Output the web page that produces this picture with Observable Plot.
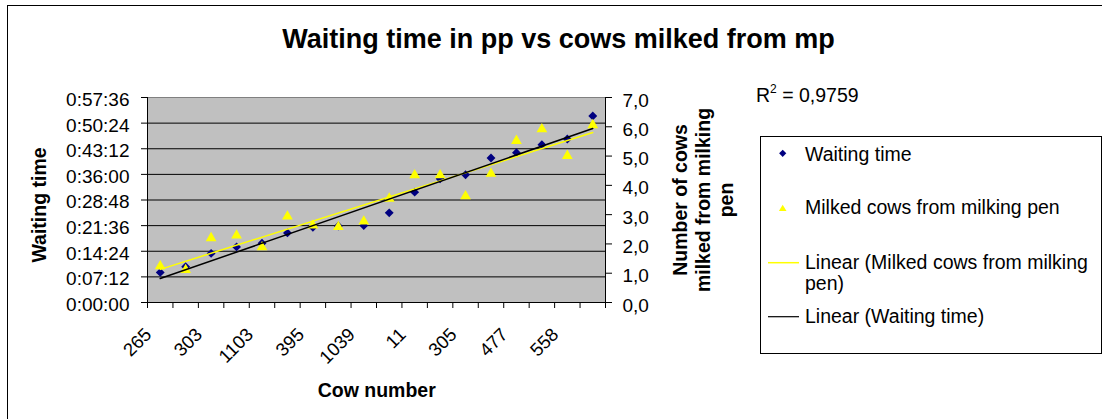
<!DOCTYPE html>
<html>
<head>
<meta charset="utf-8">
<script src="https://cdn.jsdelivr.net/npm/d3@7"></script>
<script src="https://cdn.jsdelivr.net/npm/@observablehq/plot@0.6"></script>
<style>
  html, body { margin: 0; padding: 0; background: #fff; }
  #chart { position: relative; width: 1102px; height: 419px; overflow: hidden;
           font-family: "Liberation Sans", Arial, sans-serif; }
  #chart svg { position: absolute; left: 0; top: 0; }
</style>
</head>
<body>
<div id="chart"></div>
<script>
// Cow numbers shown under the axis (every second cow is labelled)
const cowTickLabels = ["265", "303", "1103", "395", "1039", "11", "305", "477", "558"];
const labelStep = 2;

// Waiting time in the pre-milking pen, one value per cow (h:mm:ss)
const waitingTime = [
  "0:08:27", "0:10:04", "0:13:48", "0:15:37", "0:16:38", "0:19:33",
  "0:21:08", "0:21:30", "0:21:37", "0:25:11", "0:31:00", "0:34:46",
  "0:35:54", "0:40:35", "0:42:06", "0:44:21", "0:45:56", "0:52:25"
];

// Number of cows milked from the milking pen, one value per cow
const milkedCows = [
  1.24, 1.11, 2.20, 2.29, 1.89, 2.94,
  2.63, 2.58, 2.77, 3.55, 4.35, 4.35,
  3.63, 4.40, 5.52, 5.92, 5.01, 6.06
];

// Axis tick labels
const timeTickLabels = ["0:00:00", "0:07:12", "0:14:24", "0:21:36", "0:28:48",
                        "0:36:00", "0:43:12", "0:50:24", "0:57:36"];
const countTickLabels = ["0,0", "1,0", "2,0", "3,0", "4,0", "5,0", "6,0", "7,0"];

const rSquaredText = "0,9759";

// ---- derived values ----
const toSeconds = s => { const [h, m, sec] = s.split(":").map(Number); return h * 3600 + m * 60 + sec; };
const timeTicks = timeTickLabels.map(toSeconds);
const maxSec = timeTicks[timeTicks.length - 1];
const countTicks = countTickLabels.map(s => +s.replace(",", "."));
const maxCount = countTicks[countTicks.length - 1];
const countToSec = c => c * maxSec / maxCount;   // right axis shares the left scale

const n = waitingTime.length;
const waitData = waitingTime.map((t, i) => ({i, sec: toSeconds(t)}));
const milkData = milkedCows.map((c, i) => ({i, sec: countToSec(c)}));
const bounds = d3.range(-0.5, n, 1);
const labelIdx = cowTickLabels.map((_, k) => k * labelStep);

const font = '"Liberation Sans", Arial, sans-serif';

const plot = Plot.plot({
  width: 1102,
  height: 419,
  marginLeft: 147,
  marginRight: 497,
  marginTop: 97,
  marginBottom: 117,
  x: {type: "linear", domain: [-0.5, n - 0.5], axis: null},
  y: {type: "linear", domain: [0, maxSec], axis: null},
  style: {fontFamily: font, fontSize: "19px", color: "#000", background: "transparent", overflow: "visible"},
  marks: [
    Plot.frame({fill: "#c0c0c0", stroke: null}),
    Plot.gridY(timeTicks, {stroke: "#000", strokeOpacity: 1}),
    Plot.frame({stroke: "#808080"}),
    Plot.ruleX([-0.5], {stroke: "#000"}),
    Plot.ruleX([n - 0.5], {stroke: "#000"}),
    Plot.ruleY([0], {stroke: "#000"}),
    // tick marks of the three axes
    Plot.axisY(timeTicks, {anchor: "left", tickSize: 6, label: null, tickFormat: () => ""}),
    Plot.axisY(countTicks.map(countToSec), {anchor: "right", tickSize: 6, label: null, tickFormat: () => ""}),
    Plot.axisX(bounds, {anchor: "bottom", tickSize: 6, label: null, tickFormat: () => ""}),
    // left tick labels: waiting time
    Plot.text(timeTicks, {x: () => -0.5, y: d => d, text: (d, i) => timeTickLabels[i],
      textAnchor: "end", dx: -18, dy: 2.4, fontSize: 19}),
    // right tick labels: number of cows
    Plot.text(countTicks, {x: () => n - 0.5, y: d => countToSec(d), text: (d, i) => countTickLabels[i],
      textAnchor: "start", dx: 17, dy: 3, fontSize: 19}),
    // rotated cow numbers
    Plot.text(labelIdx, {x: d => d, y: () => 0, text: (d, i) => cowTickLabels[i],
      rotate: -45, textAnchor: "end", lineAnchor: "top", dx: -17, dy: 24, fontSize: 18.5}),
    // points
    Plot.dot(waitData, {x: "i", y: "sec", symbol: "diamond2", r: 4, fill: "#000080", stroke: null}),
    Plot.dot(milkData, {x: "i", y: "sec", symbol: "triangle", r: 4, fill: "#ffff00", stroke: null}),
    // linear trend lines
    Plot.linearRegressionY(milkData, {x: "i", y: "sec", stroke: "#ffff00", strokeWidth: 1.5, ci: 0}),
    Plot.linearRegressionY(waitData, {x: "i", y: "sec", stroke: "#000", strokeWidth: 1.5, ci: 0})
  ]
});
document.getElementById("chart").appendChild(plot);

// ---- titles, R² note and legend ----
const svg = d3.select("#chart").append("svg")
  .attr("width", 1102).attr("height", 419)
  .style("pointer-events", "none")
  .style("font-family", font);

// chart border
svg.append("rect").attr("x", 7.5).attr("y", 5.5).attr("width", 1200).attr("height", 500)
  .attr("fill", "none").attr("stroke", "#000");

svg.append("text").attr("x", 558.5).attr("y", 48).attr("text-anchor", "middle")
  .attr("font-size", 27).attr("font-weight", "bold")
  .text("Waiting time in pp vs cows milked from mp");

// axis titles
svg.append("text").attr("transform", "translate(45.7,205) rotate(-90)")
  .attr("text-anchor", "middle").attr("font-size", 19.5).attr("font-weight", "bold")
  .text("Waiting time");

[["Number of cows", 687.3], ["milked from milking", 710], ["pen", 733.3]].forEach(([t, x]) => {
  svg.append("text").attr("transform", `translate(${x},200) rotate(-90)`)
    .attr("text-anchor", "middle").attr("font-size", 19.5).attr("font-weight", "bold").text(t);
});

svg.append("text").attr("x", 376.7).attr("y", 396.7).attr("text-anchor", "middle")
  .attr("font-size", 19.5).attr("font-weight", "bold").text("Cow number");

// R² of the trend line
const r2 = svg.append("text").attr("x", 756).attr("y", 102.3).attr("font-size", 19.5);
r2.append("tspan").text("R");
r2.append("tspan").attr("font-size", 12).attr("dy", -9).text("2");
r2.append("tspan").attr("dy", 9).text(" = " + rSquaredText);

// legend
svg.append("rect").attr("x", 760.5).attr("y", 136.5).attr("width", 341).attr("height", 217)
  .attr("fill", "#fff").attr("stroke", "#000");

svg.append("path").attr("transform", "translate(782.7,153.3)")
  .attr("d", "M0,-3.6L3.6,0L0,3.6L-3.6,0Z").attr("fill", "#000080");
svg.append("path").attr("transform", "translate(782.7,208.3)")
  .attr("d", "M0,-3.6L3.8,2.8L-3.8,2.8Z").attr("fill", "#ffff00");
svg.append("line").attr("x1", 768).attr("x2", 799).attr("y1", 262.7).attr("y2", 262.7)
  .attr("stroke", "#ffff00").attr("stroke-width", 1.5);
svg.append("line").attr("x1", 768).attr("x2", 799).attr("y1", 316.7).attr("y2", 316.7)
  .attr("stroke", "#000").attr("stroke-width", 1.2);

[["Waiting time", 160.7], ["Milked cows from milking pen", 214],
 ["Linear (Milked cows from milking", 269.3], ["pen)", 290], ["Linear (Waiting time)", 323]]
  .forEach(([t, y]) => {
    svg.append("text").attr("x", 805).attr("y", y).attr("font-size", 19.5).text(t);
  });
</script>
</body>
</html>
